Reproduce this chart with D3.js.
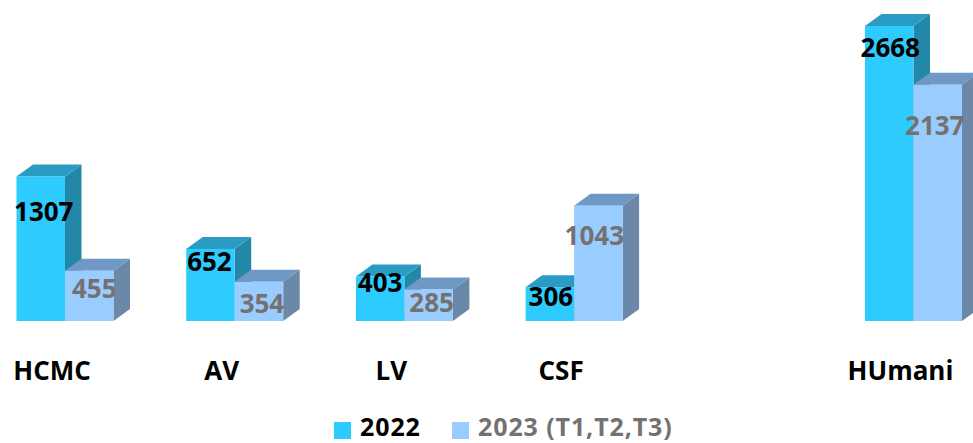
<html>
<head>
  <title>Chart</title>
  <script src="https://d3js.org/d3.v7.min.js"></script>
  <style>
    html, body { margin: 0; padding: 0; background: #fff; }
    svg { display: block; }
    text { font-family: "Open Sans", "Noto Sans", sans-serif; font-weight: 700; }
  </style>
</head>
<body>
<svg id="chart" width="973" height="443"></svg>
<script>
  // values, the blank category is the gap before HUmani
  var categories = ['HCMC', 'AV', 'LV', 'CSF', ' ', 'HUmani'];
  var seriesNames = ['2022', '2023 (T1,T2,T3)'];
  var values2022 = [1307, 652, 403, 306, null, 2668];
  var values2023 = [455, 354, 285, 1043, null, 2137];

  // hand placed labels in the original: nudge from the top of the bar
  var nudge2022 = [[3, 45], [-1, 22], [0, 16], [1, 19], [null, null], [1, 31]];
  var nudge2023 = [[5, 27], [3, 31], [3, 23], [-4, 39], [null, null], [-3, 50]];

  var colors = [
    { front: '#2ecbff', top: '#2a9cc4', side: '#2388a8', text: '#000000' },
    { front: '#99ccff', top: '#7098c4', side: '#6b88a8', text: '#767171' }
  ];

  var svg = d3.select('#chart');
  var baseline = 321;
  var depthX = 16.5;
  var depthY = 12;

  var x = d3.scaleBand().domain(categories).range([-19.85, 998.35]);
  var xInner = d3.scaleBand().domain(seriesNames).range([0, 97]);
  // no visible y axis in the chart, scale fitted to bar heights
  var y = d3.scaleLinear().domain([0, 2668]).range([baseline, 26]);

  var line = d3.line();

  function drawSeries(name, values, c) {
    var rows = categories
      .map(function (cat, i) { return { cat: cat, value: values[i] }; })
      .filter(function (d) { return d.value !== null; });

    var g = svg.append('g').selectAll('g')
      .data(rows)
      .enter()
      .append('g')
      .attr('transform', function (d) {
        var groupLeft = x(d.cat) + x.bandwidth() / 2 - 48.5;
        return 'translate(' + (groupLeft + xInner(name)) + ',0)';
      });

    var w = xInner.bandwidth();

    // side face
    g.append('path')
      .attr('fill', c.side)
      .attr('d', function (d) {
        var t = y(d.value);
        return line([[w, t], [w + depthX, t - depthY], [w + depthX, baseline - depthY], [w, baseline]]) + 'Z';
      });
    // top face
    g.append('path')
      .attr('fill', c.top)
      .attr('d', function (d) {
        var t = y(d.value);
        return line([[0, t], [depthX, t - depthY], [w + depthX, t - depthY], [w, t]]) + 'Z';
      });
    // front face
    g.append('rect')
      .attr('fill', c.front)
      .attr('x', 0)
      .attr('width', w)
      .attr('y', function (d) { return y(d.value); })
      .attr('height', function (d) { return baseline - y(d.value); });
  }

  function drawLabels(name, values, nudges, c) {
    categories.forEach(function (cat, i) {
      if (values[i] === null) return;
      var groupLeft = x(cat) + x.bandwidth() / 2 - 48.5;
      svg.append('text')
        .attr('x', groupLeft + xInner(name) + xInner.bandwidth() / 2 + nudges[i][0])
        .attr('y', y(values[i]) + nudges[i][1])
        .attr('text-anchor', 'middle')
        .attr('font-size', 26)
        .attr('fill', c.text)
        .text(values[i]);
    });
  }

  drawSeries(seriesNames[0], values2022, colors[0]);
  drawSeries(seriesNames[1], values2023, colors[1]);
  drawLabels(seriesNames[0], values2022, nudge2022, colors[0]);
  drawLabels(seriesNames[1], values2023, nudge2023, colors[1]);

  // category labels
  var xAxis = d3.axisBottom(x).tickSize(0).tickPadding(0);
  var axisG = svg.append('g')
    .attr('transform', 'translate(-13,380)')
    .call(xAxis);
  axisG.select('.domain').remove();
  axisG.selectAll('text')
    .attr('y', 0)
    .attr('dy', 0)
    .attr('font-size', 26)
    .attr('fill', '#000')
    .style('font-family', '"Open Sans", "Noto Sans", sans-serif')
    .style('font-weight', 700);

  // legend, baseline kept high enough that the text box stays inside the page
  var legendX = [334, 452];
  var legendTextX = [360, 478];
  seriesNames.forEach(function (name, i) {
    svg.append('rect')
      .attr('x', legendX[i]).attr('y', 422)
      .attr('width', 17).attr('height', 17)
      .attr('fill', colors[i].front);
    svg.append('text')
      .attr('x', legendTextX[i]).attr('y', 435.5)
      .attr('font-size', 25)
      .attr('letter-spacing', 0.9)
      .attr('fill', colors[i].text)
      .text(name);
  });
</script>
</body>
</html>
